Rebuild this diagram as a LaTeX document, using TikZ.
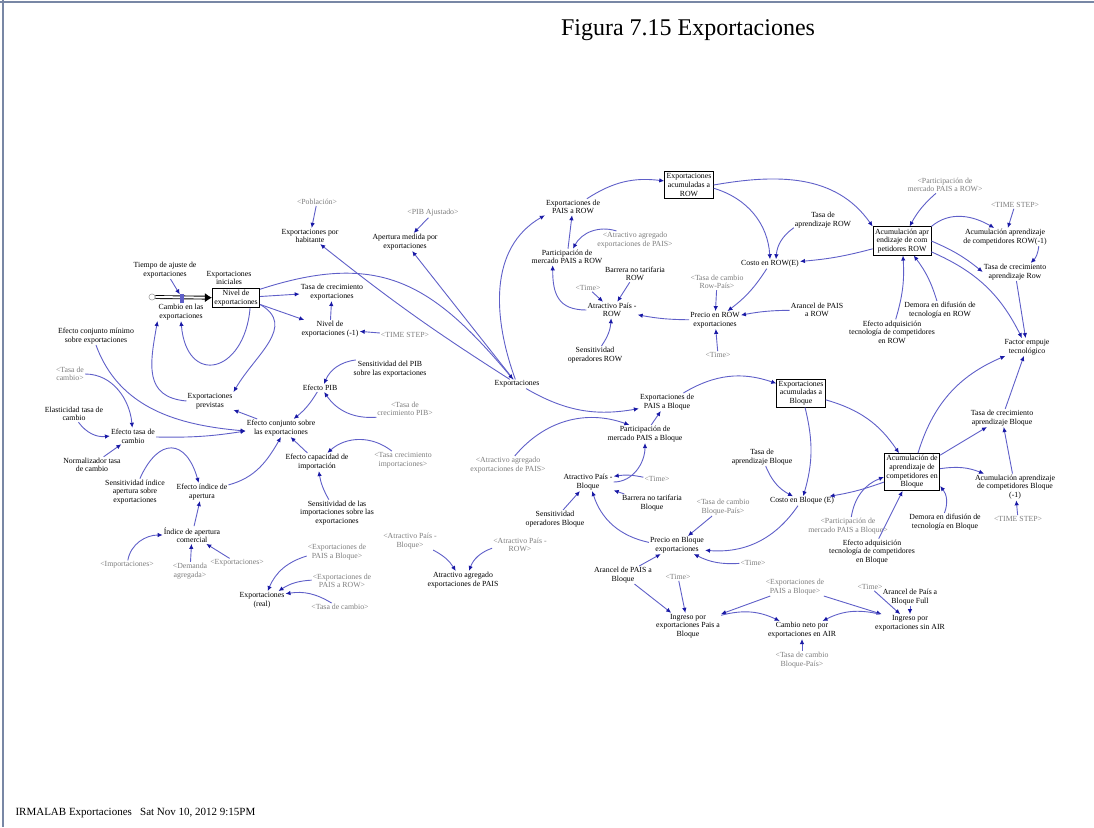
\documentclass[tikz,border=0pt]{standalone}
\usepackage{fontspec}
\setmainfont{Liberation Serif}
\usepackage{tikz}
\usetikzlibrary{arrows.meta}

\definecolor{linkblue}{RGB}{95,95,200}
\definecolor{headblue}{RGB}{25,25,165}
\definecolor{shadowgray}{RGB}{125,125,125}
\definecolor{framecol}{RGB}{120,135,165}

\tikzset{
  var/.style={align=center,inner sep=1pt,font=\fontsize{7.8}{8.6}\selectfont},
  ghost/.style={var,text=shadowgray},
  stock/.style={var,draw,thick,inner sep=2pt},
  link/.style={draw=linkblue,line width=0.9pt,-{Latex[length=5pt,width=4.5pt,color=headblue]}},
}

\begin{document}
\begin{tikzpicture}[x=1pt,y=1pt]
  \useasboundingbox (0,0) rectangle (1094,-827);
  \draw[framecol,line width=1.5pt] (3,0) -- (3,-827);
  \draw[framecol,line width=1.5pt] (0,-2) -- (1094,-2);
  \node[font=\fontsize{24}{26}\selectfont] (title) at (688,-30) {Figura 7.15 Exportaciones};
  \node[anchor=west,font=\fontsize{11}{12}\selectfont] (footer) at (12,-813) {IRMALAB Exportaciones\ \ \ Sat Nov 10, 2012 9:15PM};

  % level of exports and its flow
  \node[var] (tiempo) at (165,-270) {Tiempo de ajuste de\\exportaciones};
  \node[var] (iniciales) at (229,-278) {Exportaciones\\iniciales};
  \node[stock] (nivel) at (236,-298) {Nivel de\\exportaciones};
  \node[circle,draw=gray,inner sep=2.2pt] (cloud) at (152,-297) {};
  \draw[double distance=2pt,line width=0.9pt,-{Latex[length=7pt,width=9pt]}] (cloud) -- (nivel);
  \node[fill=linkblue,minimum width=4pt,minimum height=9pt,inner sep=0pt] (valve) at (182,-298) {};
  \node[var] (cambio) at (181,-312) {Cambio en las\\exportaciones};
  \node[var] (tasacrec) at (332,-292) {Tasa de crecimiento\\exportaciones};
  \node[var] (nivelm1) at (330,-329) {Nivel de\\exportaciones (-1)};
  \node[ghost] (tstep1) at (405,-335) {<TIME STEP>};
  \node[var] (previstas) at (210,-401) {Exportaciones\\previstas};

  % effects on exports
  \node[var] (minimo) at (96,-336) {Efecto conjunto mínimo\\sobre exportaciones};
  \node[ghost] (tcambio1) at (70,-374) {<Tasa de\\cambio>};
  \node[var] (elasticidad) at (74,-414) {Elasticidad tasa de\\cambio};
  \node[var] (efectotc) at (133,-436) {Efecto tasa de\\cambio};
  \node[var] (normaliz) at (92,-465) {Normalizador tasa\\de cambio};
  \node[var] (conjunto) at (281,-428) {Efecto conjunto sobre\\las exportaciones};
  \node[var] (efectopib) at (320,-388) {Efecto PIB};
  \node[var] (senspib) at (390,-369) {Sensitividad del PIB\\sobre las exportaciones};
  \node[ghost] (tasapib) at (405,-409) {<Tasa de\\crecimiento PIB>};
  \node[var] (capacidad) at (317,-462) {Efecto capacidad de\\importación};
  \node[ghost] (tasaimp) at (403,-460) {<Tasa crecimiento\\importaciones>};
  \node[var] (sensimp) at (337,-513) {Sensitividad de las\\importaciones sobre las\\exportaciones};
  \node[var] (sensindice) at (135,-492) {Sensitividad índice\\apertura sobre\\exportaciones};
  \node[var] (efindice) at (202,-492) {Efecto índice de\\apertura};
  \node[var] (indice) at (192,-535) {Índice de apertura\\comercial};
  \node[ghost] (importg) at (127,-565) {<Importaciones>};
  \node[ghost] (demandag) at (190,-571) {<Demanda\\agregada>};
  \node[ghost] (exportg) at (237,-563) {<Exportaciones>};
  \node[ghost] (expblg1) at (337,-552) {<Exportaciones de\\PAIS a Bloque>};
  \node[ghost] (exprowg) at (342,-581) {<Exportaciones de\\PAIS a ROW>};
  \node[var] (exreal) at (262,-600) {Exportaciones\\(real)};
  \node[ghost] (tcambio2) at (340,-607) {<Tasa de cambio>};

  % total exports
  \node[ghost] (poblacion) at (317,-202) {<Población>};
  \node[var] (porhab) at (310,-236) {Exportaciones por\\habitante};
  \node[ghost] (pibaj) at (433,-213) {<PIB Ajustado>};
  \node[var] (apertura) at (405,-242) {Apertura medida por\\exportaciones};
  \node[var] (exportaciones) at (517,-384) {Exportaciones};
  \node[ghost] (atrbloqueg) at (410,-541) {<Atractivo País -\\Bloque>};
  \node[ghost] (atrrowg) at (520,-545) {<Atractivo País -\\ROW>};
  \node[var] (atragregado) at (463,-580) {Atractivo agregado\\exportaciones de PAIS};

  % ROW
  \node[var] (exrow) at (573,-207) {Exportaciones de\\PAIS a ROW};
  \node[stock] (accrow) at (689,-185) {Exportaciones\\acumuladas a\\ROW};
  \node[ghost] (atragrow) at (635,-240) {<Atractivo agregado\\exportaciones de PAIS>};
  \node[var] (partrow) at (567,-257) {Participación de\\mercado PAIS a ROW};
  \node[var] (barrow) at (635,-274) {Barrera no tarifaria\\ROW};
  \node[ghost] (timerow) at (588,-288) {<Time>};
  \node[var] (atrrow) at (612,-310) {Atractivo País -\\ROW};
  \node[var] (sensrow) at (595,-355) {Sensitividad\\operadores ROW};
  \node[ghost] (tcrowg) at (717,-282) {<Tasa de cambio\\Row-País>};
  \node[var] (preciorow) at (715,-320) {Precio en ROW\\exportaciones};
  \node[ghost] (timerow2) at (718,-355) {<Time>};
  \node[var] (costorow) at (770,-264) {Costo en ROW(E)};
  \node[var] (tasaaprow) at (823,-220) {Tasa de\\aprendizaje ROW};
  \node[var] (arancelrow) at (817,-310) {Arancel de PAIS\\a ROW};
  \node[stock] (accaprow) at (902,-241) {Acumulación apr\\endizaje de com\\petidores ROW};
  \node[ghost] (partrowg) at (945,-185) {<Participación de\\mercado PAIS a ROW>};
  \node[ghost] (tstep2) at (1015,-205) {<TIME STEP>};
  \node[var] (accm1row) at (1005,-237) {Acumulación aprendizaje\\de competidores ROW(-1)};
  \node[var] (tasacrow) at (1015,-272) {Tasa de crecimiento\\aprendizaje Row};
  \node[var] (demorarow) at (940,-310) {Demora en difusión de\\tecnología en ROW};
  \node[var] (efadqrow) at (892,-332) {Efecto adquisición\\tecnología de competidores\\en ROW};
  \node[var] (factor) at (1027,-347) {Factor empuje\\tecnológico};

  % Bloque
  \node[var] (exbloque) at (667,-402) {Exportaciones de\\PAIS a Bloque};
  \node[stock] (accbloque) at (801,-393) {Exportaciones\\acumuladas a\\Bloque};
  \node[var] (partbloque) at (645,-434) {Participación de\\mercado PAIS a Bloque};
  \node[ghost] (atragbloque) at (508,-465) {<Atractivo agregado\\exportaciones de PAIS>};
  \node[var] (atrbloque) at (588,-482) {Atractivo País -\\Bloque};
  \node[ghost] (timebl) at (657,-479) {<Time>};
  \node[var] (barbloque) at (652,-503) {Barrera no tarifaria\\Bloque};
  \node[var] (sensbloque) at (555,-519) {Sensitividad\\operadores Bloque};
  \node[var] (tasaapbl) at (762,-457) {Tasa de\\aprendizaje Bloque};
  \node[var] (costobl) at (802,-501) {Costo en Bloque (E)};
  \node[ghost] (tcblg) at (723,-507) {<Tasa de cambio\\Bloque-País>};
  \node[var] (preciobl) at (677,-545) {Precio en Bloque\\exportaciones};
  \node[ghost] (timebl2) at (753,-563) {<Time>};
  \node[var] (arancelbl) at (623,-575) {Arancel de PAIS a\\Bloque};
  \node[ghost] (timebl3) at (678,-577) {<Time>};
  \node[var] (ingresobl) at (688,-626) {Ingreso por\\exportaciones Pais a\\Bloque};
  \node[ghost] (expblg2) at (795,-587) {<Exportaciones de\\PAIS a Bloque>};
  \node[var] (cambioneto) at (802,-630) {Cambio neto por\\exportaciones en AIR};
  \node[ghost] (tcblg2) at (802,-660) {<Tasa de cambio\\Bloque-País>};
  \node[ghost] (timebl4) at (870,-587) {<Time>};
  \node[var] (arancelfull) at (910,-597) {Arancel de País a\\Bloque Full};
  \node[var] (ingresosin) at (910,-623) {Ingreso por\\exportaciones sin AIR};
  \node[stock] (accapbl) at (912,-472) {Acumulación de\\aprendizaje de\\competidores en\\Bloque};
  \node[ghost] (partblg) at (848,-526) {<Participación de\\mercado PAIS a Bloque>};
  \node[var] (demorabl) at (945,-522) {Demora en difusión de\\tecnología en Bloque};
  \node[var] (efadqbl) at (872,-552) {Efecto adquisición\\tecnología de competidores\\en Bloque};
  \node[var] (tasacbl) at (1002,-418) {Tasa de crecimiento\\aprendizaje Bloque};
  \node[var] (accm1bl) at (1015,-487) {Acumulación aprendizaje\\de competidores Bloque\\(-1)};
  \node[ghost] (tstep3) at (1018,-519) {<TIME STEP>};

  % links, left part
  \draw[link] (tiempo) -- (valve);
  \draw[link] (nivel) -- (tasacrec);
  \draw[link] (nivel.-15) -- (nivelm1);
  \draw[link] (nivelm1) -- (tasacrec);
  \draw[link] (tstep1) -- (nivelm1);
  \draw[link] ([xshift=-10pt]nivel.south east) to[out=-95,in=-85,looseness=2.4] (cambio.south);
  \draw[link] (nivel.-15) to[out=-30,in=60,looseness=1.2] (previstas.north east);
  \draw[link] (previstas.west) to[out=175,in=-100,looseness=1.3] (cambio.south west);
  \draw[link] (conjunto) -- (previstas);
  \draw[link] (minimo.south) to[out=-70,in=175] ([yshift=-3pt]conjunto.west);
  \draw[link] (efectotc) to[bend right=5] ([yshift=-3pt]conjunto.west);
  \draw[link] (tcambio1) to[out=0,in=95] (efectotc);
  \draw[link] (elasticidad) to[bend right=30] (efectotc.west);
  \draw[link] (normaliz) -- (efectotc);
  \draw[link] (efectopib) to[bend left=10] (conjunto);
  \draw[link] (senspib) to[bend right=30] (efectopib);
  \draw[link] (tasapib) to[bend left=30] (efectopib);
  \draw[link] (capacidad) -- (conjunto);
  \draw[link] (tasaimp) to[bend right=40] (capacidad);
  \draw[link] (sensimp) to[bend left=10] (capacidad);
  \draw[link] (efindice) to[out=15,in=-120] (conjunto.south);
  \draw[link] (sensindice) to[bend left=70,looseness=2] (efindice);
  \draw[link] (indice) -- (efindice);
  \draw[link] (importg) to[out=80,in=180] (indice.west);
  \draw[link] (demandag) -- (indice);
  \draw[link] (exportg) -- (indice);
  \draw[link] (expblg1) to[bend right=25] (exreal);
  \draw[link] (exprowg) to[bend right=15] (exreal);
  \draw[link] (tcambio2) to[bend right=20] (exreal);
  \draw[link] (poblacion) -- (porhab);
  \draw[link] (pibaj) -- (apertura);
  \draw[link] (exportaciones) to[bend left=3] (porhab);
  \draw[link] (exportaciones) -- (apertura);
  \draw[link] (nivel.20) to[out=18,in=130,looseness=1.2] (exportaciones);
  \draw[link] (exportaciones) to[out=110,in=210] (exrow.south west);
  \draw[link] (exportaciones) to[bend right=20] (exbloque);
  \draw[link] (atrbloqueg) to[bend left=15] (atragregado);
  \draw[link] (atrrowg) to[bend right=25] (atragregado);

  % links, ROW
  \draw[link] (exrow) to[bend left=20] (accrow);
  \draw[link] (partrow) -- (exrow);
  \draw[link] (atragrow) to[bend right=40] (partrow);
  \draw[link] (atrrow.west) to[out=180,in=-90,looseness=1.3] (partrow.-150);
  \draw[link] (timerow) -- (atrrow);
  \draw[link] (barrow) -- (atrrow);
  \draw[link] (sensrow) to[bend right=15] (atrrow);
  \draw[link] (preciorow) to[bend left=5] (atrrow);
  \draw[link] (tcrowg) -- (preciorow);
  \draw[link] (timerow2) -- (preciorow);
  \draw[link] (costorow) to[bend left=10] (preciorow);
  \draw[link] (arancelrow) to[bend right=5] (preciorow);
  \draw[link] (accrow) to[bend left=35] (costorow.north);
  \draw[link] (tasaaprow) to[bend right=25] ([xshift=6pt]costorow.north);
  \draw[link] (accaprow) to[bend left=5] (costorow);
  \draw[link] (accrow.east) to[out=10,in=125] (accaprow.north west);
  \draw[link] (partrowg) to[bend right=10] (accaprow);
  \draw[link] (accaprow.north east) to[out=40,in=150] (accm1row.140);
  \draw[link] (tstep2) -- (accm1row);
  \draw[link] (accm1row.-15) to[bend left=20] (tasacrow.30);
  \draw[link] (accaprow.east) to[bend left=8] (tasacrow.west);
  \draw[link] (accaprow) to[bend left=20] (factor);
  \draw[link] (tasacrow) -- (factor);
  \draw[link] (demorarow) to[bend right=10] (accaprow);
  \draw[link] (efadqrow) to[bend right=10] (accaprow);

  % links, Bloque
  \draw[link] (partbloque) -- (exbloque);
  \draw[link] (exbloque) to[bend left=25] (accbloque);
  \draw[link] (atragbloque) to[bend left=35] (partbloque.150);
  \draw[link] (atrbloque.east) to[out=0,in=-90] (partbloque.south);
  \draw[link] (timebl) to[bend right=10] (atrbloque);
  \draw[link] (barbloque) -- (atrbloque);
  \draw[link] (sensbloque) -- (atrbloque);
  \draw[link] (preciobl) to[bend left=30] (atrbloque);
  \draw[link] (costobl) to[bend left=30] (preciobl);
  \draw[link] (tcblg) -- (preciobl);
  \draw[link] (timebl2) to[bend left=15] (preciobl);
  \draw[link] (arancelbl) -- (preciobl);
  \draw[link] (accbloque) to[bend left=15] (costobl);
  \draw[link] (tasaapbl) to[bend right=20] (costobl);
  \draw[link] (accapbl) to[bend left=5] (costobl);
  \draw[link] (accbloque) to[bend left=20] (accapbl);
  \draw[link] (partblg) to[bend left=30] (accapbl);
  \draw[link] (demorabl) to[bend right=30] (accapbl);
  \draw[link] (efadqbl) -- (accapbl);
  \draw[link] (accapbl) to[bend left=25] (factor);
  \draw[link] (accapbl) -- (tasacbl);
  \draw[link] (accapbl) to[bend left=15] (accm1bl);
  \draw[link] (accm1bl) -- (tasacbl);
  \draw[link] (tstep3) -- (accm1bl);
  \draw[link] (tasacbl) -- (factor);

  % links, revenue
  \draw[link] (arancelbl) -- (ingresobl);
  \draw[link] (timebl3) -- (ingresobl);
  \draw[link] (expblg2) -- (ingresobl);
  \draw[link] (expblg2) -- (ingresosin);
  \draw[link] (ingresobl) to[bend left=20] (cambioneto);
  \draw[link] (ingresosin) to[bend right=20] (cambioneto);
  \draw[link] (tcblg2) -- (cambioneto);
  \draw[link] (timebl4) -- (ingresosin);
  \draw[link] (arancelfull) -- (ingresosin);
\end{tikzpicture}
\end{document}
